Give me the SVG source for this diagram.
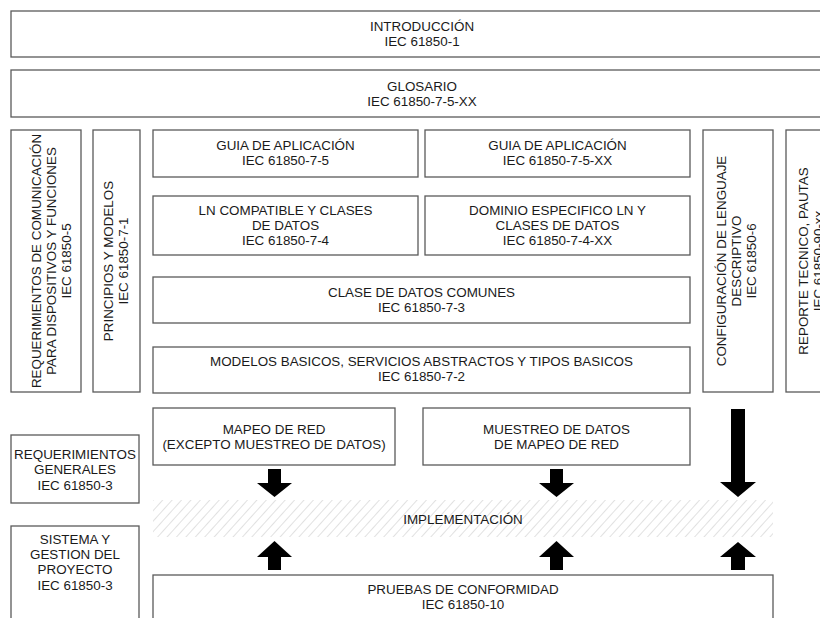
<svg xmlns="http://www.w3.org/2000/svg" width="820" height="618" viewBox="0 0 820 618">
<style>
.box{fill:#fff;stroke:#5a5a5a;stroke-width:1.3}
.t{font-family:"Liberation Sans",Arial,sans-serif;font-size:13.4px;fill:#1a1a1a;text-anchor:middle}
.arr{fill:#000}
</style>
<defs>
<pattern id="hatch" patternUnits="userSpaceOnUse" width="7" height="7" patternTransform="rotate(42)">
<line x1="0" y1="0" x2="0" y2="7" stroke="#c4c4c4" stroke-width="1"/>
</pattern>
</defs>
<rect width="820" height="618" fill="#fff"/>

<g id="introduccion"><rect class="box" x="11" y="11" width="830" height="46"/>
<text class="t" x="422" y="31">INTRODUCCIÓN</text><text class="t" x="422" y="46">IEC 61850-1</text></g>

<g id="glosario"><rect class="box" x="11" y="70" width="830" height="47"/>
<text class="t" x="422" y="91">GLOSARIO</text><text class="t" x="422" y="106">IEC 61850-7-5-XX</text></g>

<g id="req-comunicacion"><rect class="box" x="11" y="130" width="70" height="262"/>
<text class="t" transform="translate(41,261) rotate(-90)">REQUERIMIENTOS DE COMUNICACIÓN</text>
<text class="t" transform="translate(56,261) rotate(-90)">PARA DISPOSITIVOS Y FUNCIONES</text>
<text class="t" transform="translate(71,261) rotate(-90)">IEC 61850-5</text></g>

<g id="principios"><rect class="box" x="93" y="130" width="47" height="262"/>
<text class="t" transform="translate(113,261) rotate(-90)">PRINCIPIOS Y MODELOS</text>
<text class="t" transform="translate(128,261) rotate(-90)">IEC 61850-7-1</text></g>

<g id="guia1"><rect class="box" x="153" y="130" width="265" height="47"/>
<text class="t" x="285.5" y="150">GUIA DE APLICACIÓN</text><text class="t" x="285.5" y="165">IEC 61850-7-5</text></g>

<g id="guia2"><rect class="box" x="425" y="130" width="265" height="47"/>
<text class="t" x="557.5" y="150">GUIA DE APLICACIÓN</text><text class="t" x="557.5" y="165">IEC 61850-7-5-XX</text></g>

<g id="ln-compatible"><rect class="box" x="153" y="196" width="265" height="59"/>
<text class="t" x="285.5" y="215">LN COMPATIBLE Y CLASES</text><text class="t" x="285.5" y="230">DE DATOS</text><text class="t" x="285.5" y="245">IEC 61850-7-4</text></g>

<g id="dominio"><rect class="box" x="425" y="196" width="265" height="59"/>
<text class="t" x="557.5" y="215">DOMINIO ESPECIFICO LN Y</text><text class="t" x="557.5" y="230">CLASES DE DATOS</text><text class="t" x="557.5" y="245">IEC 61850-7-4-XX</text></g>

<g id="clase-datos"><rect class="box" x="153" y="277" width="537" height="46"/>
<text class="t" x="421.5" y="297">CLASE DE DATOS COMUNES</text><text class="t" x="421.5" y="312">IEC 61850-7-3</text></g>

<g id="modelos-basicos"><rect class="box" x="153" y="347" width="537" height="46"/>
<text class="t" x="421.5" y="366">MODELOS BASICOS, SERVICIOS ABSTRACTOS Y TIPOS BASICOS</text><text class="t" x="421.5" y="381">IEC 61850-7-2</text></g>

<g id="configuracion"><rect class="box" x="703" y="130" width="70" height="262"/>
<text class="t" transform="translate(726,261) rotate(-90)">CONFIGURACIÓN DE LENGUAJE</text>
<text class="t" transform="translate(741,261) rotate(-90)">DESCRIPTIVO</text>
<text class="t" transform="translate(756,261) rotate(-90)">IEC 61850-6</text></g>

<g id="reporte"><rect class="box" x="786" y="130" width="70" height="262"/>
<text class="t" transform="translate(808,261) rotate(-90)">REPORTE TECNICO, PAUTAS</text>
<text class="t" transform="translate(823,261) rotate(-90)">IEC 61850-90-xx</text></g>

<g id="req-generales"><rect class="box" x="11" y="435" width="128" height="68"/>
<text class="t" x="75" y="459">REQUERIMIENTOS</text><text class="t" x="75" y="474">GENERALES</text><text class="t" x="75" y="490">IEC 61850-3</text></g>

<g id="sistema"><rect class="box" x="11" y="526" width="128" height="110"/>
<text class="t" x="75" y="544">SISTEMA Y</text><text class="t" x="75" y="559">GESTION DEL</text><text class="t" x="75" y="574">PROYECTO</text><text class="t" x="75" y="590">IEC 61850-3</text></g>

<g id="mapeo-red"><rect class="box" x="153" y="408" width="242" height="57"/>
<text class="t" x="274" y="434">MAPEO DE RED</text><text class="t" x="274" y="449">(EXCEPTO MUESTREO DE DATOS)</text></g>

<g id="muestreo"><rect class="box" x="423" y="408" width="267" height="57"/>
<text class="t" x="556.5" y="434">MUESTREO DE DATOS</text><text class="t" x="556.5" y="449">DE MAPEO DE RED</text></g>

<g id="implementacion"><rect x="153" y="500" width="620" height="37" fill="url(#hatch)"/>
<text class="t" x="463" y="524">IMPLEMENTACIÓN</text></g>

<g id="pruebas"><rect class="box" x="153" y="575" width="620" height="60"/>
<text class="t" x="463" y="594">PRUEBAS DE CONFORMIDAD</text><text class="t" x="463" y="609">IEC 61850-10</text></g>

<g id="connectors">
<polygon class="arr" points="268,469 281,469 281,483 292,483 274.5,497 257,483 268,483"/>
<polygon class="arr" points="550,469 563,469 563,483 574,483 556.5,497 539,483 550,483"/>
<polygon class="arr" points="731,409 745,409 745,482 756,482 738,497 720,482 731,482"/>
<polygon class="arr" points="274.5,541 292,557 281,557 281,570 268,570 268,557 257,557"/>
<polygon class="arr" points="556.5,541 574,557 563,557 563,570 550,570 550,557 539,557"/>
<polygon class="arr" points="738,542 756,557 745,557 745,570 731,570 731,557 720,557"/>
</g>
</svg>
